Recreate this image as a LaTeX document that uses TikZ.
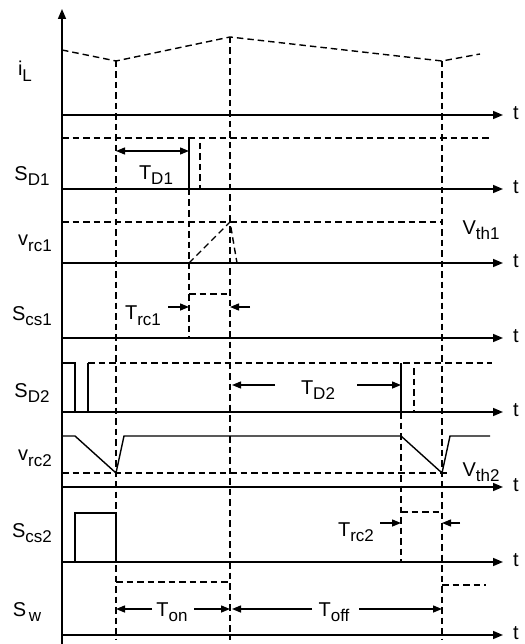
\documentclass[tikz,border=0pt]{standalone}
\usepackage{fontspec}
\setmainfont{Liberation Sans}
\usetikzlibrary{arrows.meta}
\newcommand{\sbs}[1]{\raisebox{-0.28em}{\fontsize{17}{17}\selectfont #1}}
\begin{document}
\begin{tikzpicture}[x=1pt,y=-1pt,
  axis/.style={line width=1.5pt,-{Triangle[length=10pt,width=8pt]}},
  sig/.style={line width=1.4pt},
  dsh/.style={line width=1.4pt,dash pattern=on 6.5pt off 4pt},
  meas/.style={line width=1.4pt,-{Triangle[length=9pt,width=7pt]}},
  lbl/.style={font=\fontsize{20}{22}\selectfont,inner sep=0pt}]
\useasboundingbox (0,0) rectangle (524,644);
% axes
\draw[axis] (62,644) -- (62,9);
\foreach \yy/\nm in {115/a,189/b,263/c,338/d,412/e,487/f,562/g,635/h}{
  \draw[axis] (62,\yy) -- (503,\yy);
  \node[lbl] (t\nm) at (516,\yy-2) {t};
}
% vertical dashed reference lines
\draw[dsh] (116,61) -- (116,640);
\draw[dsh] (230,37) -- (230,640);
\draw[dsh] (442,61) -- (442,640);
% iL
\draw[dsh] (62,50) -- (116,61) -- (230,37) -- (442,61) -- (480,54);
% SD1
\draw[dsh] (62,138) -- (492,138);
\draw[sig] (189,138) -- (189,189);
\draw[dsh] (189,189) -- (189,338);
\draw[dsh] (200,143) -- (200,189);
\draw[line width=1.4pt,{Triangle[length=9pt,width=7pt]}-{Triangle[length=9pt,width=7pt]}] (116,151) -- (189,151);
% vrc1
\draw[dsh] (62,222) -- (442,222);
\draw[dsh] (189,263) -- (230,222) -- (237,263);
% Scs1
\draw[dsh] (189,294) -- (230,294);
\draw[meas] (168,307) -- (189,307);
\draw[meas] (250,307) -- (230,307);
% SD2
\draw[sig] (62,363) -- (75,363) -- (75,412);
\draw[sig] (88,412) -- (88,363);
\draw[dsh] (88,363) -- (492,363);
\draw[sig] (401,363) -- (401,412);
\draw[dsh] (401,412) -- (401,562);
\draw[dsh] (414,368) -- (414,412);
\draw[meas] (275,385) -- (232,385);
\draw[meas] (357,385) -- (401,385);
% vrc2
\draw[dsh] (62,473) -- (447,473);
\draw[sig] (62,436) -- (75,436) -- (116,473) -- (124,436) -- (401,436) -- (442,473) -- (450,436) -- (490,436);
% Scs2
\draw[sig] (75,562) -- (75,513) -- (116,513) -- (116,562);
\draw[dsh] (401,512) -- (442,512);
\draw[meas] (380,523) -- (401,523);
\draw[meas] (460,523) -- (442,523);
% Sw
\draw[dsh] (116,582) -- (230,582);
\draw[dsh] (442,585) -- (486,585);
\draw[meas] (152,609) -- (116,609);
\draw[meas] (194,609) -- (230,609);
\draw[meas] (312,609) -- (232,609);
\draw[meas] (359,609) -- (442,609);
% left labels
\node[lbl] (liL) at (25,71) {i\sbs{L}};
\node[lbl] (lSD1) at (32,176) {S\sbs{D1}};
\node[lbl] (lvrc1) at (35,243) {v\sbs{rc1}};
\node[lbl] (lScs1) at (32,316) {S\sbs{cs1}};
\node[lbl] (lSD2) at (32,393) {S\sbs{D2}};
\node[lbl] (lvrc2) at (35,458) {v\sbs{rc2}};
\node[lbl] (lScs2) at (32,533) {S\sbs{cs2}};
\node[lbl] (lSw) at (27,612) {S\sbs{\,w}};
% inner labels
\node[lbl] (lTD1) at (156,175) {T\sbs{D1}};
\node[lbl] (lTrc1) at (143,316) {T\sbs{rc1}};
\node[lbl] (lTD2) at (318,390) {T\sbs{D2}};
\node[lbl] (lTrc2) at (356,532) {T\sbs{rc2}};
\node[lbl] (lTon) at (172,612) {T\sbs{on}};
\node[lbl] (lToff) at (334,612) {T\sbs{off}};
\node[lbl] (lVth1) at (481,230) {V\sbs{th1}};
\node[lbl] (lVth2) at (481,472) {V\sbs{th2}};
\end{tikzpicture}
\end{document}
